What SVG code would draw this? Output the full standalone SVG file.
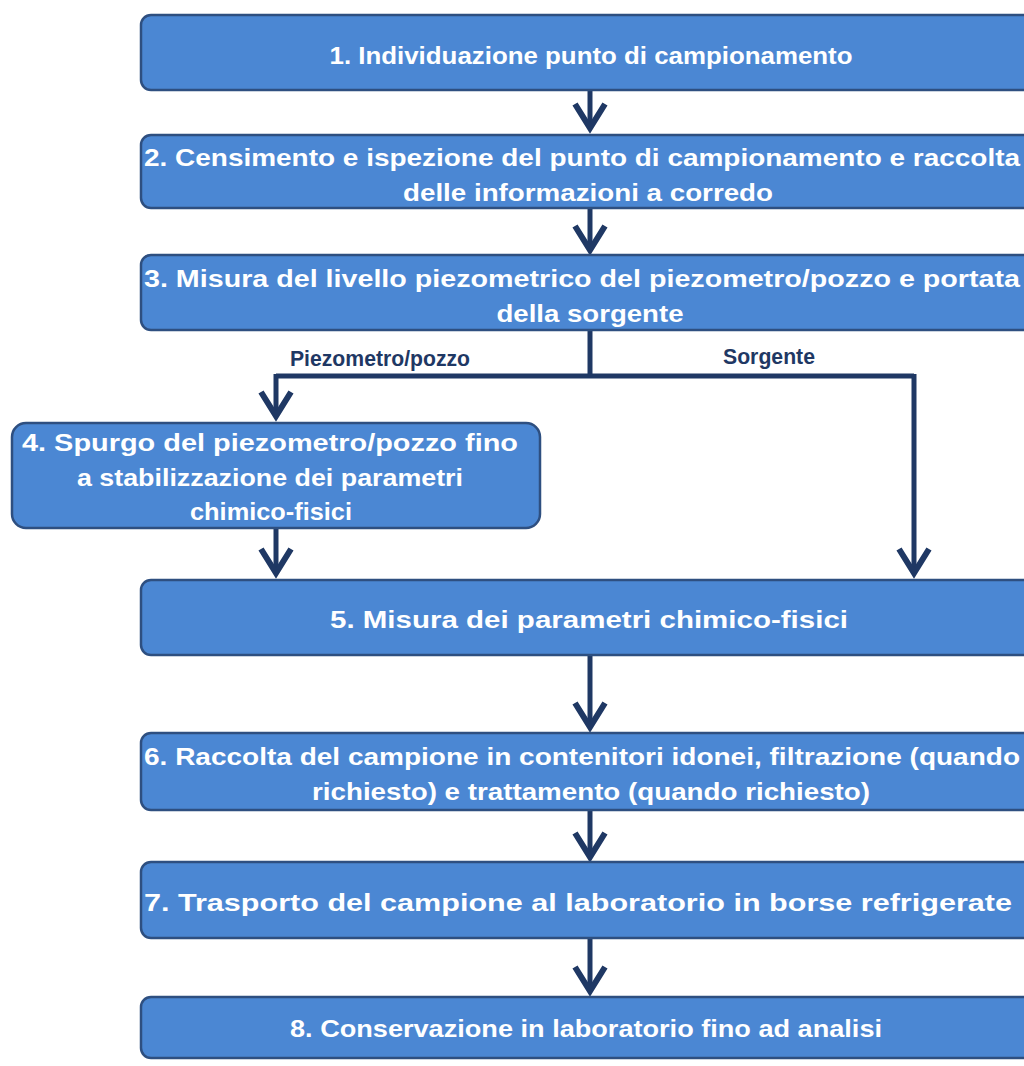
<svg xmlns="http://www.w3.org/2000/svg" width="1024" height="1066" viewBox="0 0 1024 1066">
<defs>
<style>
.box{fill:#4b87d3;stroke:#2e4f80;stroke-width:2.5}
.t{font-family:"Liberation Sans",Arial,sans-serif;font-weight:bold;font-size:24px;fill:#ffffff;text-anchor:middle}
.lbl{font-family:"Liberation Sans",Arial,sans-serif;font-weight:bold;font-size:22px;fill:#1f3864;text-anchor:middle}
.c{fill:none;stroke:#1f3864;stroke-width:5}
</style>
<marker id="ah" markerUnits="userSpaceOnUse" orient="auto" refX="0" refY="0" markerWidth="60" markerHeight="60" viewBox="-40 -30 60 60" overflow="visible">
<path d="M-24,-15 L0,0 L-24,15" fill="none" stroke="#1f3864" stroke-width="6" stroke-linejoin="miter"/>
</marker>
</defs>
<rect width="1024" height="1066" fill="#ffffff"/>
<g id="connectors">
<line class="c" x1="590" y1="91" x2="590" y2="128" marker-end="url(#ah)"/>
<line class="c" x1="590" y1="209" x2="590" y2="250" marker-end="url(#ah)"/>
<polyline class="c" points="276,376 914,376"/>
<line class="c" x1="590" y1="331" x2="590" y2="376"/>
<line class="c" x1="276" y1="374" x2="276" y2="416" marker-end="url(#ah)"/>
<line class="c" x1="914" y1="374" x2="914" y2="573" marker-end="url(#ah)"/>
<line class="c" x1="276" y1="529" x2="276" y2="573" marker-end="url(#ah)"/>
<line class="c" x1="590" y1="656" x2="590" y2="727" marker-end="url(#ah)"/>
<line class="c" x1="590" y1="811" x2="590" y2="857" marker-end="url(#ah)"/>
<line class="c" x1="590" y1="939" x2="590" y2="991" marker-end="url(#ah)"/>
<text class="lbl" x="380" y="366" textLength="180" lengthAdjust="spacingAndGlyphs">Piezometro/pozzo</text>
<text class="lbl" x="769" y="364" textLength="92" lengthAdjust="spacingAndGlyphs">Sorgente</text>
</g>
<g id="n1">
<rect class="box" x="141" y="15" width="898" height="75" rx="10"/>
<text class="t" x="591" y="64" textLength="523" lengthAdjust="spacingAndGlyphs">1. Individuazione punto di campionamento</text>
</g>
<g id="n2">
<rect class="box" x="141" y="135" width="898" height="73" rx="10"/>
<text class="t" x="582" y="166" textLength="876" lengthAdjust="spacingAndGlyphs">2. Censimento e ispezione del punto di campionamento e raccolta</text>
<text class="t" x="588" y="201" textLength="370" lengthAdjust="spacingAndGlyphs">delle informazioni a corredo</text>
</g>
<g id="n3">
<rect class="box" x="141" y="255" width="898" height="75" rx="10"/>
<text class="t" x="582" y="287" textLength="876" lengthAdjust="spacingAndGlyphs">3. Misura del livello piezometrico del piezometro/pozzo e portata</text>
<text class="t" x="590" y="322" textLength="187" lengthAdjust="spacingAndGlyphs">della sorgente</text>
</g>
<g id="n4">
<rect class="box" x="12" y="423" width="528" height="105" rx="14"/>
<text class="t" x="270" y="451" textLength="496" lengthAdjust="spacingAndGlyphs">4. Spurgo del piezometro/pozzo fino</text>
<text class="t" x="270" y="486" textLength="386" lengthAdjust="spacingAndGlyphs">a stabilizzazione dei parametri</text>
<text class="t" x="271" y="520" textLength="162" lengthAdjust="spacingAndGlyphs">chimico-fisici</text>
</g>
<g id="n5">
<rect class="box" x="141" y="580" width="898" height="75" rx="10"/>
<text class="t" x="589" y="628" textLength="518" lengthAdjust="spacingAndGlyphs">5. Misura dei parametri chimico-fisici</text>
</g>
<g id="n6">
<rect class="box" x="141" y="733" width="898" height="77" rx="10"/>
<text class="t" x="582" y="765" textLength="876" lengthAdjust="spacingAndGlyphs">6. Raccolta del campione in contenitori idonei, filtrazione (quando</text>
<text class="t" x="591" y="800" textLength="558" lengthAdjust="spacingAndGlyphs">richiesto) e trattamento (quando richiesto)</text>
</g>
<g id="n7">
<rect class="box" x="141" y="862" width="898" height="76" rx="10"/>
<text class="t" x="578" y="911" textLength="868" lengthAdjust="spacingAndGlyphs">7. Trasporto del campione al laboratorio in borse refrigerate</text>
</g>
<g id="n8">
<rect class="box" x="141" y="997" width="898" height="61" rx="10"/>
<text class="t" x="586" y="1037" textLength="592" lengthAdjust="spacingAndGlyphs">8. Conservazione in laboratorio fino ad analisi</text>
</g>
</svg>
